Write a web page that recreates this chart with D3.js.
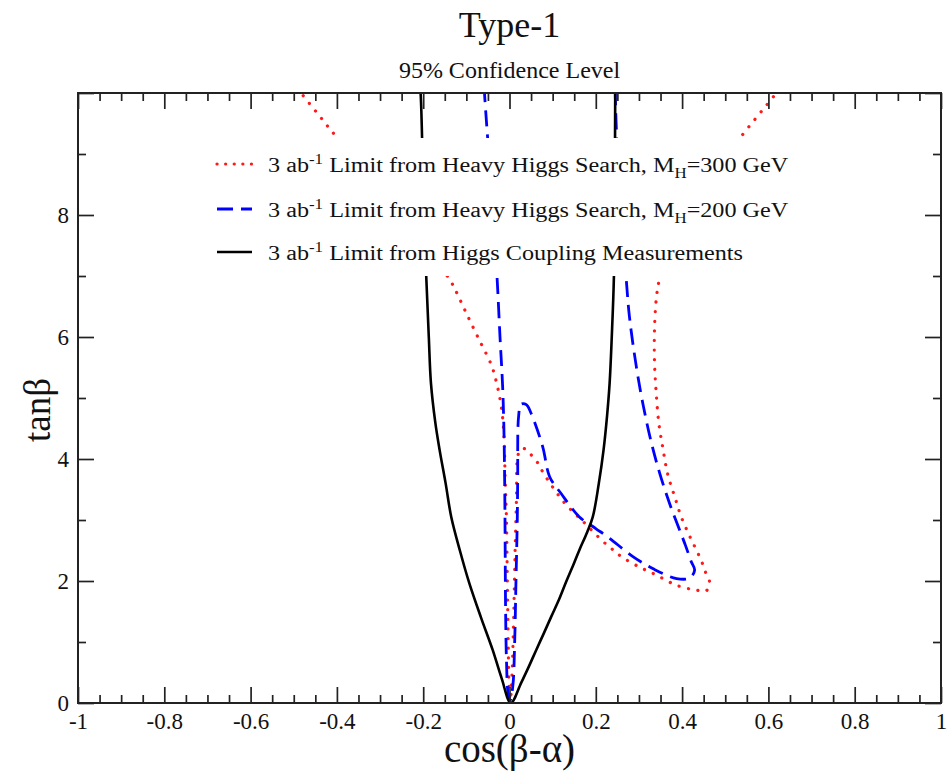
<!DOCTYPE html>
<html>
<head>
<meta charset="utf-8">
<script src="https://cdn.jsdelivr.net/npm/d3@7"></script>
<style>
  body { margin: 0; background: #fff; }
  text { font-family: "Liberation Serif", "DejaVu Serif", serif; fill: #111; }
</style>
</head>
<body>
<div id="chart"></div>
<script>
// points are [cos(beta-alpha), tan(beta)]
var coupling = [
    [-0.212, 10.5], [-0.206, 10], [-0.200, 8.5], [-0.193, 7.0], [-0.187, 6.0], [-0.182, 5.24],
    [-0.172, 4.6], [-0.162, 4.15], [-0.148, 3.6], [-0.135, 3.05], [-0.115, 2.5], [-0.093, 1.96],
    [-0.066, 1.4], [-0.039, 0.87], [-0.018, 0.4], [0.003, 0.0],
    [0.027, 0.33], [0.045, 0.6], [0.062, 0.87], [0.080, 1.15], [0.097, 1.42], [0.115, 1.7],
    [0.132, 2.0], [0.150, 2.3], [0.162, 2.51], [0.180, 2.8], [0.193, 3.05], [0.207, 3.6],
    [0.218, 4.15], [0.226, 4.7], [0.232, 5.24], [0.237, 6.0], [0.242, 7.0], [0.244, 8.5],
    [0.245, 10], [0.245, 10.5]
];

var heavy200 = [
    [-0.062, 10.5], [-0.058, 10], [-0.048, 9.0], [-0.038, 8.0], [-0.029, 7.0], [-0.022, 6.0],
    [-0.016, 5.2], [-0.013, 4.5], [-0.011, 3.5], [-0.010, 2.5], [-0.009, 1.5], [-0.007, 0.7],
    [-0.003, 0.15], [0.002, 0.05], [0.008, 0.3], [0.012, 1.0], [0.015, 2.0], [0.018, 3.0],
    [0.019, 3.66], [0.021, 4.69], [0.027, 4.90], [0.039, 4.89], [0.050, 4.75], [0.077, 4.2],
    [0.093, 3.71], [0.120, 3.43], [0.162, 3.05], [0.200, 2.86], [0.232, 2.70], [0.286, 2.40],
    [0.333, 2.20], [0.387, 2.04], [0.418, 2.05], [0.429, 2.18], [0.421, 2.32], [0.408, 2.58],
    [0.394, 2.84], [0.371, 3.27], [0.348, 3.77], [0.329, 4.26], [0.309, 4.91], [0.294, 5.51],
    [0.278, 6.33], [0.270, 6.99], [0.258, 8.0], [0.250, 9.0], [0.245, 10], [0.244, 10.5]
];

var heavy300 = [
    [-0.505, 10.2], [-0.483, 10], [-0.440, 9.62], [-0.401, 9.28], [-0.300, 8.45], [-0.220, 7.7],
    [-0.165, 7.2], [-0.135, 6.9], [-0.124, 6.75], [-0.100, 6.39], [-0.070, 5.95], [-0.042, 5.54],
    [-0.029, 5.22], [-0.019, 4.86], [-0.013, 4.4], [-0.010, 3.66], [-0.007, 3.0], [-0.005, 2.0],
    [-0.003, 1.0], [-0.001, 0.3], [0.002, 0.05], [0.006, 0.5], [0.010, 1.5], [0.013, 2.5],
    [0.016, 3.3], [0.019, 4.04], [0.025, 4.15], [0.035, 4.17], [0.050, 4.07], [0.066, 3.93],
    [0.077, 3.79], [0.100, 3.54], [0.130, 3.26], [0.170, 2.98], [0.215, 2.66], [0.240, 2.51],
    [0.259, 2.40], [0.298, 2.24], [0.340, 2.10], [0.387, 1.93], [0.433, 1.85], [0.456, 1.84],
    [0.464, 1.97], [0.455, 2.13], [0.447, 2.29], [0.437, 2.45], [0.418, 2.73], [0.398, 3.05],
    [0.383, 3.38], [0.367, 3.74], [0.356, 4.15], [0.346, 4.59], [0.340, 5.08], [0.336, 5.60],
    [0.336, 6.11], [0.340, 6.61], [0.348, 6.96], [0.380, 7.6], [0.430, 8.3], [0.490, 8.85],
    [0.536, 9.28], [0.615, 9.97], [0.640, 10.2]
];

var xMajor = [-1, -0.8, -0.6, -0.4, -0.2, 0, 0.2, 0.4, 0.6, 0.8, 1];
var xLabels = ["-1", "-0.8", "-0.6", "-0.4", "-0.2", "0", "0.2", "0.4", "0.6", "0.8", "1"];
var yMajor = [0, 2, 4, 6, 8, 10];
var yLabels = ["0", "2", "4", "6", "8", ""];

var legendMass = ["300", "200", null];
var legendText = ["Limit from Heavy Higgs Search, M", "Limit from Heavy Higgs Search, M", "Limit from Higgs Coupling Measurements"];

var margin = {top: 93, right: 8, bottom: 69, left: 78};
var width = 949 - margin.left - margin.right,
    height = 772 - margin.top - margin.bottom;

var svg = d3.select("#chart")
    .append("svg")
    .attr("width", 949)
    .attr("height", 772);

var g = svg.append("g")
    .attr("transform", "translate(" + margin.left + "," + margin.top + ")");

var x = d3.scaleLinear().domain([-1, 1]).range([0, width]);
var y = d3.scaleLinear().domain([0, 10]).range([height, 0]);

// minor ticks every 0.05 in x and every 1 in y
var xMinor = d3.range(-20, 21).map(function (i) { return i * 0.05; })
    .filter(function (v) { return Math.abs(Math.round(v * 5) - v * 5) > 1e-6; });
var yMinor = [1, 3, 5, 7, 9];

function styleAxis(sel) {
    sel.select(".domain").remove();
    sel.selectAll("line").attr("stroke", "#222").attr("stroke-width", 1.7);
}

// clip for the curves
g.append("defs").append("clipPath")
    .attr("id", "clip")
    .append("rect")
    .attr("width", width)
    .attr("height", height);

var line = d3.line()
    .x(function (d) { return x(d[0]); })
    .y(function (d) { return y(d[1]); })
    .curve(d3.curveCatmullRom.alpha(0.5));

var curves = g.append("g").attr("clip-path", "url(#clip)");

curves.append("path").datum(heavy300)
    .attr("fill", "none").attr("stroke", "#ff1a1a").attr("stroke-width", 3.2)
    .attr("stroke-linecap", "round").attr("stroke-dasharray", "0.1 9.5");

curves.append("path").datum(heavy200)
    .attr("fill", "none").attr("stroke", "#0000ff").attr("stroke-width", 2.8)
    .attr("stroke-dasharray", "16 8");

curves.append("path").datum(coupling)
    .attr("fill", "none").attr("stroke", "#000").attr("stroke-width", 2.6);

curves.selectAll("path").attr("d", line);

// bottom
g.append("g").attr("transform", "translate(0," + height + ")")
    .call(d3.axisBottom(x).tickValues(xMinor).tickSize(-8).tickFormat(""))
    .call(styleAxis);
var xAxis = g.append("g").attr("transform", "translate(0," + height + ")")
    .call(d3.axisBottom(x).tickValues(xMajor).tickSize(-16).tickPadding(10)
        .tickFormat(function (d, i) { return xLabels[i]; }))
    .call(styleAxis);
xAxis.selectAll("text").attr("font-size", 23).attr("font-family", "Liberation Serif").attr("fill", "#111");

// top
g.append("g")
    .call(d3.axisTop(x).tickValues(xMinor).tickSize(-8).tickFormat(""))
    .call(styleAxis);
g.append("g")
    .call(d3.axisTop(x).tickValues(xMajor).tickSize(-16).tickFormat(""))
    .call(styleAxis);

// left
g.append("g")
    .call(d3.axisLeft(y).tickValues(yMinor).tickSize(-8).tickFormat(""))
    .call(styleAxis);
var yAxis = g.append("g")
    .call(d3.axisLeft(y).tickValues(yMajor).tickSize(-16).tickPadding(9)
        .tickFormat(function (d, i) { return yLabels[i]; }))
    .call(styleAxis);
yAxis.selectAll("text").attr("font-size", 23).attr("font-family", "Liberation Serif").attr("fill", "#111");

// right
g.append("g").attr("transform", "translate(" + width + ",0)")
    .call(d3.axisRight(y).tickValues(yMinor).tickSize(-8).tickFormat(""))
    .call(styleAxis);
g.append("g").attr("transform", "translate(" + width + ",0)")
    .call(d3.axisRight(y).tickValues(yMajor).tickSize(-16).tickFormat(""))
    .call(styleAxis);

// frame
g.append("rect")
    .attr("width", width).attr("height", height)
    .attr("fill", "none").attr("stroke", "#222").attr("stroke-width", 2);

// legend box (white, hides the curves underneath)
var legend = svg.append("g");
legend.append("rect")
    .attr("x", 205).attr("y", 138)
    .attr("width", 600).attr("height", 138)
    .attr("fill", "#fff");

var rowY = [164, 209, 252];
var styles = [
    {stroke: "#ff1a1a", dash: "0.1 8.5", cap: "round", w: 3.2},
    {stroke: "#0000ff", dash: "16 8", cap: "butt", w: 2.8},
    {stroke: "#000", dash: null, cap: "butt", w: 2.6}
];

rowY.forEach(function (ry, i) {
    legend.append("line")
        .attr("x1", 217).attr("x2", 252)
        .attr("y1", ry).attr("y2", ry)
        .attr("stroke", styles[i].stroke)
        .attr("stroke-width", styles[i].w)
        .attr("stroke-linecap", styles[i].cap)
        .attr("stroke-dasharray", styles[i].dash);

    var t = legend.append("g")
        .attr("transform", "translate(268," + (ry + 8) + ") scale(1.21,1)")
        .append("text")
        .attr("font-size", 20);
    t.append("tspan").text("3 ab");
    t.append("tspan").attr("font-size", 14).attr("dy", -8).text("-1");
    t.append("tspan").attr("dy", 8).text(" " + legendText[i]);
    if (legendMass[i]) {
        t.append("tspan").attr("font-size", 14).attr("dy", 6).text("H");
        t.append("tspan").attr("dy", -6).text("=" + legendMass[i] + " GeV");
    }
});

// titles
svg.append("text")
    .attr("x", margin.left + width / 2).attr("y", 37)
    .attr("text-anchor", "middle").attr("font-size", 36)
    .text("Type-1");

svg.append("text")
    .attr("x", margin.left + width / 2).attr("y", 78)
    .attr("text-anchor", "middle").attr("font-size", 24)
    .text("95% Confidence Level");

svg.append("text")
    .attr("x", margin.left + width / 2).attr("y", 762)
    .attr("text-anchor", "middle").attr("font-size", 39)
    .text("cos(\u03b2-\u03b1)");

svg.append("text")
    .attr("transform", "translate(50,410) rotate(-90)")
    .attr("text-anchor", "middle").attr("font-size", 37)
    .text("tan\u03b2");
</script>
</body>
</html>
